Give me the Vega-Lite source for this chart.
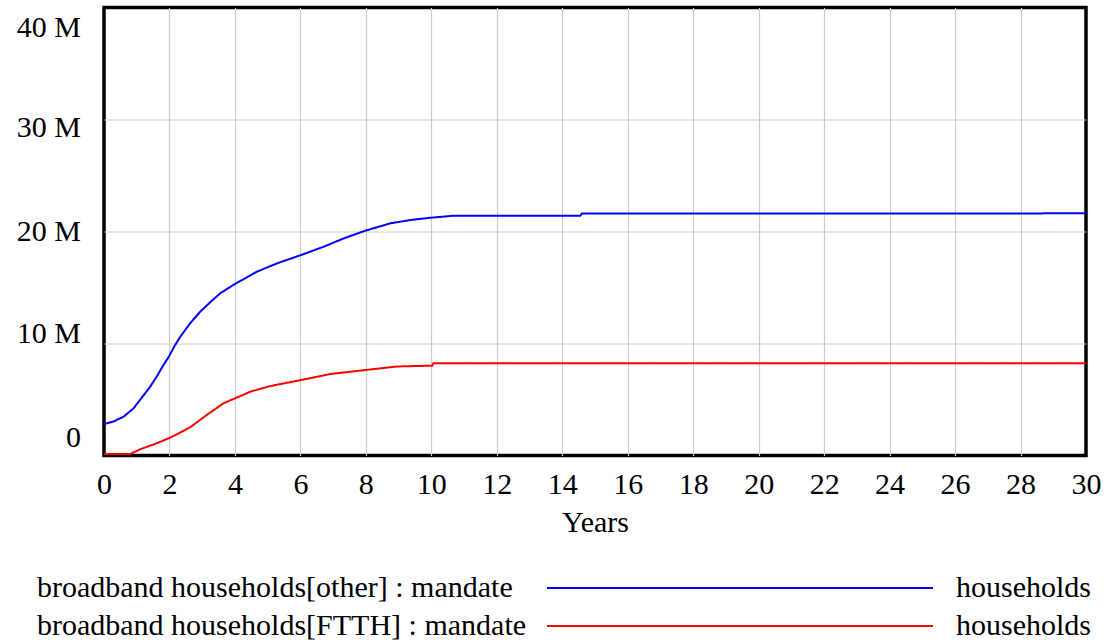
{
  "$schema": "https://vega.github.io/schema/vega-lite/v6.json",
  "width": 982,
  "height": 448,
  "autosize": {"type": "none"},
  "padding": {"left": 104, "top": 7.5, "right": 21, "bottom": 186.5},
  "background": "white",
  "config": {
    "font": "Liberation Serif, Times New Roman, serif",
    "view": {"stroke": "black", "strokeWidth": 3.5},
    "axis": {"labelColor": "black", "titleColor": "black", "labelFont": "Liberation Serif, Times New Roman, serif", "titleFont": "Liberation Serif, Times New Roman, serif"},
    "legend": {"labelFont": "Liberation Serif, Times New Roman, serif"}
  },
  "data": {
    "values": [
      {"series": "broadband households[other] : mandate", "t": 0, "value": 2800000},
      {"series": "broadband households[other] : mandate", "t": 0.3, "value": 3050000},
      {"series": "broadband households[other] : mandate", "t": 0.6, "value": 3470000},
      {"series": "broadband households[other] : mandate", "t": 0.9, "value": 4200000},
      {"series": "broadband households[other] : mandate", "t": 1.1, "value": 4960000},
      {"series": "broadband households[other] : mandate", "t": 1.4, "value": 6100000},
      {"series": "broadband households[other] : mandate", "t": 1.61, "value": 7040000},
      {"series": "broadband households[other] : mandate", "t": 1.8, "value": 8000000},
      {"series": "broadband households[other] : mandate", "t": 1.98, "value": 8820000},
      {"series": "broadband households[other] : mandate", "t": 2.15, "value": 9750000},
      {"series": "broadband households[other] : mandate", "t": 2.33, "value": 10600000},
      {"series": "broadband households[other] : mandate", "t": 2.63, "value": 11800000},
      {"series": "broadband households[other] : mandate", "t": 2.94, "value": 12840000},
      {"series": "broadband households[other] : mandate", "t": 3.25, "value": 13700000},
      {"series": "broadband households[other] : mandate", "t": 3.55, "value": 14480000},
      {"series": "broadband households[other] : mandate", "t": 3.8, "value": 14950000},
      {"series": "broadband households[other] : mandate", "t": 4.0, "value": 15310000},
      {"series": "broadband households[other] : mandate", "t": 4.67, "value": 16410000},
      {"series": "broadband households[other] : mandate", "t": 5.29, "value": 17160000},
      {"series": "broadband households[other] : mandate", "t": 6.02, "value": 17900000},
      {"series": "broadband households[other] : mandate", "t": 6.71, "value": 18640000},
      {"series": "broadband households[other] : mandate", "t": 7.33, "value": 19390000},
      {"series": "broadband households[other] : mandate", "t": 7.98, "value": 20070000},
      {"series": "broadband households[other] : mandate", "t": 8.75, "value": 20730000},
      {"series": "broadband households[other] : mandate", "t": 9.37, "value": 21030000},
      {"series": "broadband households[other] : mandate", "t": 9.98, "value": 21230000},
      {"series": "broadband households[other] : mandate", "t": 10.69, "value": 21410000},
      {"series": "broadband households[other] : mandate", "t": 14.55, "value": 21410000},
      {"series": "broadband households[other] : mandate", "t": 14.6, "value": 21600000},
      {"series": "broadband households[other] : mandate", "t": 30, "value": 21620000},
      {"series": "broadband households[FTTH] : mandate", "t": 0, "value": 130000},
      {"series": "broadband households[FTTH] : mandate", "t": 0.8, "value": 130000},
      {"series": "broadband households[FTTH] : mandate", "t": 1.1, "value": 550000},
      {"series": "broadband households[FTTH] : mandate", "t": 1.61, "value": 1090000},
      {"series": "broadband households[FTTH] : mandate", "t": 1.98, "value": 1540000},
      {"series": "broadband households[FTTH] : mandate", "t": 2.3, "value": 2000000},
      {"series": "broadband households[FTTH] : mandate", "t": 2.63, "value": 2520000},
      {"series": "broadband households[FTTH] : mandate", "t": 3.14, "value": 3620000},
      {"series": "broadband households[FTTH] : mandate", "t": 3.65, "value": 4660000},
      {"series": "broadband households[FTTH] : mandate", "t": 4.0, "value": 5100000},
      {"series": "broadband households[FTTH] : mandate", "t": 4.47, "value": 5700000},
      {"series": "broadband households[FTTH] : mandate", "t": 5.08, "value": 6200000},
      {"series": "broadband households[FTTH] : mandate", "t": 6.02, "value": 6740000},
      {"series": "broadband households[FTTH] : mandate", "t": 6.92, "value": 7280000},
      {"series": "broadband households[FTTH] : mandate", "t": 7.98, "value": 7630000},
      {"series": "broadband households[FTTH] : mandate", "t": 8.96, "value": 7950000},
      {"series": "broadband households[FTTH] : mandate", "t": 10.03, "value": 8020000},
      {"series": "broadband households[FTTH] : mandate", "t": 10.06, "value": 8230000},
      {"series": "broadband households[FTTH] : mandate", "t": 30, "value": 8230000}
    ]
  },
  "mark": {"type": "line", "strokeWidth": 2, "clip": true},
  "encoding": {
    "x": {
      "field": "t",
      "type": "quantitative",
      "scale": {"domain": [0, 30], "nice": false, "zero": false},
      "axis": {
        "title": "Years",
        "values": [0, 2, 4, 6, 8, 10, 12, 14, 16, 18, 20, 22, 24, 26, 28, 30],
        "labelFontSize": 30,
        "titleFontSize": 30,
        "titleFontWeight": "normal",
        "titlePadding": 8,
        "labelPadding": 14,
        "ticks": false,
        "domain": false,
        "labelFlush": false,
        "labelOverlap": false,
        "gridColor": "#cccccc",
        "gridWidth": 1.2,
        "gridOpacity": {"condition": {"test": "datum.value === 0 || datum.value === 30", "value": 0}, "value": 1}
      }
    },
    "y": {
      "field": "value",
      "type": "quantitative",
      "scale": {"domain": [0, 40000000], "nice": false},
      "axis": {
        "title": null,
        "values": [0, 10000000, 20000000, 30000000, 40000000],
        "labelExpr": "datum.value === 0 ? '0' : format(datum.value / 1000000, 'd') + ' M'",
        "labelFontSize": 30,
        "labelPadding": 23.5,
        "labelAlign": "right",
        "labelBaseline": "middle",
        "ticks": false,
        "domain": false,
        "labelOverlap": false,
        "gridColor": "#cccccc",
        "gridWidth": 1.2,
        "gridOpacity": {"condition": {"test": "datum.value === 0 || datum.value === 40000000", "value": 0}, "value": 1},
        "labelOffset": {
          "condition": [
            {"test": "datum.value === 0", "value": -18},
            {"test": "datum.value === 10000000", "value": -10},
            {"test": "datum.value === 30000000", "value": 8},
            {"test": "datum.value === 40000000", "value": 19.5}
          ],
          "value": 0
        }
      }
    },
    "color": {
      "field": "series",
      "type": "nominal",
      "scale": {
        "domain": ["broadband households[other] : mandate", "broadband households[FTTH] : mandate"],
        "range": ["#0000ff", "#ff0000"]
      },
      "legend": {
        "orient": "none",
        "legendX": 442,
        "legendY": 562.5,
        "title": null,
        "direction": "vertical",
        "padding": 0,
        "symbolType": "stroke",
        "symbolSize": 148996,
        "symbolStrokeWidth": 2,
        "clipHeight": 36,
        "rowPadding": 2,
        "labelExpr": "'households'",
        "labelFontSize": 30,
        "labelColor": "black",
        "labelOffset": 22,
        "labelLimit": 0
      }
    },
    "strokeDash": {
      "field": "series",
      "type": "nominal",
      "sort": "descending",
      "scale": {"range": [[1, 0], [1, 0]]},
      "legend": {
        "orient": "none",
        "legendX": -97,
        "legendY": 562.5,
        "title": null,
        "direction": "vertical",
        "padding": 0,
        "symbolType": "stroke",
        "symbolSize": 0,
        "symbolOpacity": 0,
        "symbolStrokeWidth": 0,
        "clipHeight": 36,
        "rowPadding": 2,
        "labelFontSize": 30,
        "labelColor": "black",
        "labelOffset": 0,
        "labelLimit": 0
      }
    }
  }
}
